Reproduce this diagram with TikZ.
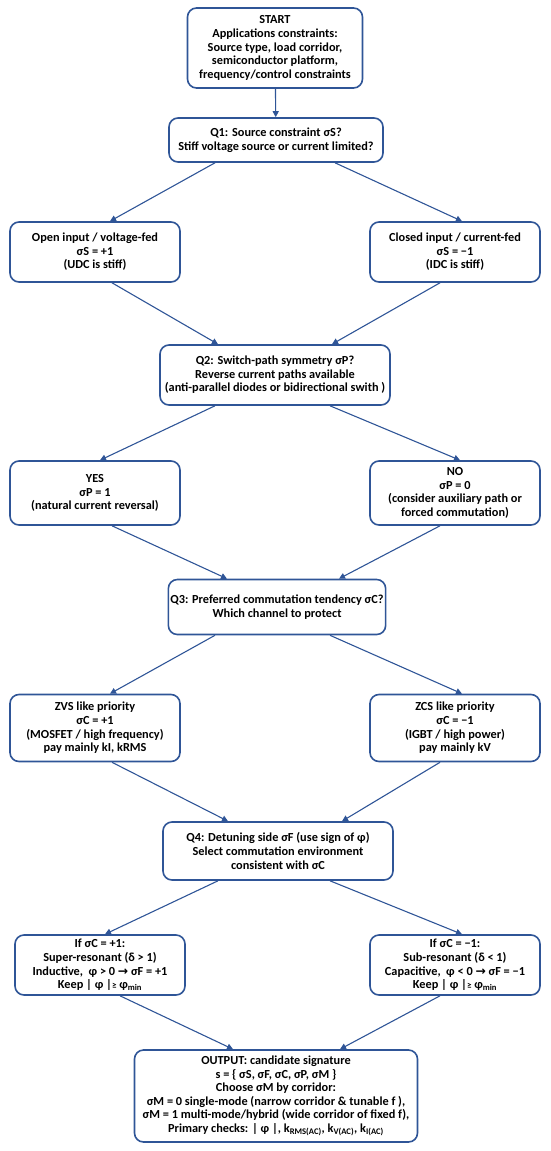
\documentclass[tikz,border=0pt]{standalone}
\usepackage{fontspec}
\setmainfont{Carlito}
\newfontfamily\symfont{DejaVu Sans}
\usetikzlibrary{arrows.meta, positioning, calc}
\definecolor{boxblue}{RGB}{47,85,151}
\newcommand{\keepphi}{Keep | φ |{\small ≥} φ\textsubscript{min}}
\newcommand{\toarrow}{{\symfont →}}

\begin{document}
\begin{tikzpicture}[
    x=1pt, y=-1pt,
    stepbox/.style={rectangle, rounded corners=9pt, draw=boxblue, line width=1.6pt, fill=white, align=center, font=\bfseries\fontsize{12.3}{13.6}\selectfont, inner sep=2pt},
    sidebox/.style={stepbox, minimum width=170pt},
    arr/.style={-{Triangle[length=6pt, width=6pt]}, line width=1.1pt, boxblue},
  ]
    \useasboundingbox (0,0) rectangle (550,1151);
    % start and first question
    \node[stepbox, minimum width=175pt, minimum height=80pt] (start) at (275,48) {
      START\\Applications constraints:\\Source type, load corridor,\\semiconductor platform,\\frequency/control constraints
    };
    \node[stepbox, minimum width=214pt, minimum height=44pt] (q1) at (276,140) {
      Q1: Source constraint σS?\\Stiff voltage source or current limited?
    };
    \node[sidebox, minimum height=60pt] (open) at (95,252) {
      Open input / voltage-fed\\σS = +1\\(UDC is stiff)
    };
    \node[sidebox, minimum height=60pt] (closed) at (455,252) {
      Closed input / current-fed\\σS = −1\\(IDC is stiff)
    };
    % switch path
    \node[stepbox, minimum width=230pt, minimum height=60pt] (q2) at (275,375) {
      Q2: Switch-path symmetry σP?\\Reverse current paths available\\(anti-parallel diodes or bidirectional swith )
    };
    \node[sidebox, minimum height=64pt] (yes) at (95,493) {
      YES\\σP = 1\\(natural current reversal)
    };
    \node[sidebox, minimum height=64pt] (no) at (455,493) {
      NO\\σP = 0\\(consider auxiliary path or\\forced commutation)
    };
    % commutation tendency
    \node[stepbox, minimum width=215pt, minimum height=55pt] (q3) at (277,607) {
      Q3: Preferred commutation tendency σC?\\Which channel to protect
    };
    \node[sidebox, minimum height=67pt] (zvs) at (95,728) {
      ZVS like priority\\σC = +1\\(MOSFET / high frequency)\\pay mainly kI, kRMS
    };
    \node[sidebox, minimum height=67pt] (zcs) at (455,728) {
      ZCS like priority\\σC = −1\\(IGBT / high power)\\pay mainly kV
    };
    % detuning side
    \node[stepbox, minimum width=230pt, minimum height=58pt] (q4) at (278,851) {
      Q4: Detuning side σF (use sign of φ)\\Select commutation environment\\consistent with σC
    };
    \node[sidebox, minimum height=60pt] (ifpos) at (100,965) {
      If σC = +1:\\Super-resonant (δ > 1)\\Inductive,\ \ φ > 0 \toarrow{} σF = +1\\\keepphi
    };
    \node[sidebox, minimum height=60pt] (ifneg) at (455,965) {
      If σC = −1:\\Sub-resonant (δ < 1)\\Capacitive,\ \ φ < 0 \toarrow{} σF = −1\\\keepphi
    };
    % output
    \node[stepbox, minimum width=283pt, minimum height=92pt] (out) at (276,1096) {
      OUTPUT: candidate signature\\s = \{ σS, σF, σC, σP, σM \}\\Choose σM by corridor:\\σM = 0 single-mode (narrow corridor \& tunable f ),\\σM = 1 multi-mode/hybrid (wide corridor of fixed f),\\Primary checks: | φ |, k\textsubscript{RMS(AC)}, k\textsubscript{V(AC)}, k\textsubscript{I(AC)}
    };
    \draw[arr] (start) -- (q1);
    \draw[arr] ([xshift=-61pt]q1.south) -- ([xshift=15pt]open.north);
    \draw[arr] ([xshift=59pt]q1.south) -- ([xshift=7pt]closed.north);
    \draw[arr] ([xshift=17pt]open.south) -- ([xshift=-57pt]q2.north);
    \draw[arr] ([xshift=-15pt]closed.south) -- ([xshift=57pt]q2.north);
    \draw[arr] ([xshift=-60pt]q2.south) -- ([xshift=5pt]yes.north);
    \draw[arr] ([xshift=55pt]q2.south) -- ([xshift=5pt]no.north);
    \draw[arr] ([xshift=17pt]yes.south) -- ([xshift=-50pt]q3.north);
    \draw[arr] ([xshift=-15pt]no.south) -- ([xshift=62pt]q3.north);
    \draw[arr] ([xshift=-62pt]q3.south) -- ([xshift=15pt]zvs.north);
    \draw[arr] ([xshift=53pt]q3.south) -- ([xshift=7pt]zcs.north);
    \draw[arr] ([xshift=17pt]zvs.south) -- ([xshift=-50pt]q4.north);
    \draw[arr] ([xshift=-15pt]zcs.south) -- ([xshift=64pt]q4.north);
    \draw[arr] ([xshift=-60pt]q4.south) -- ([xshift=5pt]ifpos.north);
    \draw[arr] ([xshift=52pt]q4.south) -- ([xshift=7pt]ifneg.north);
    \draw[arr] ([xshift=20pt]ifpos.south) -- ([xshift=-43pt]out.north);
    \draw[arr] ([xshift=-15pt]ifneg.south) -- ([xshift=64pt]out.north);
  \end{tikzpicture}
\end{document}
